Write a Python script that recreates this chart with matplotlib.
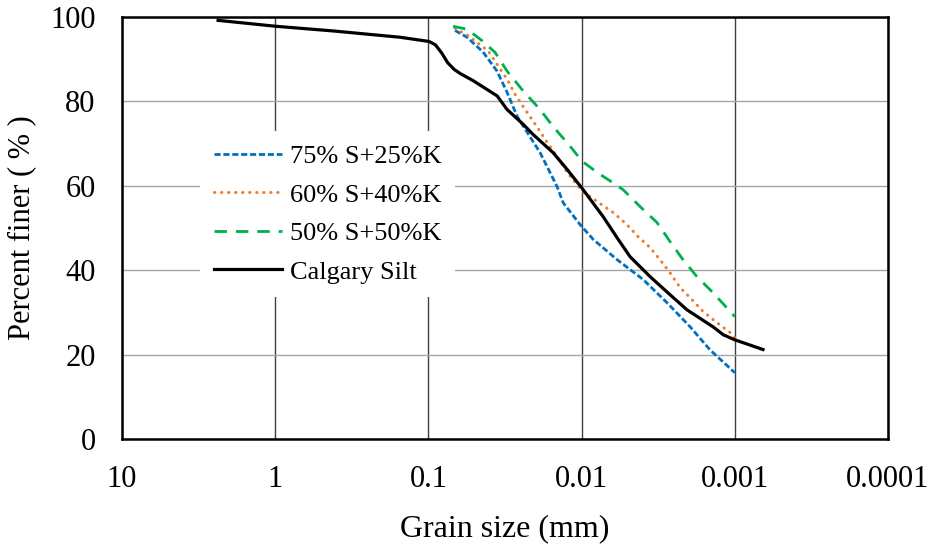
import numpy as np
import matplotlib
matplotlib.use("Agg")
import matplotlib.pyplot as plt

plt.rcParams['font.family'] = ['Liberation Serif', 'DejaVu Serif']

# grain size (mm) and percent finer
d_75 = [0.0670, 0.0560, 0.0440, 0.0357, 0.0307, 0.0264, 0.0227, 0.0187, 0.0145,
        0.0132, 0.01023, 0.0084, 0.00587, 0.00397, 0.00277, 0.00196, 0.00145, 0.0010]
p_75 = [96.8, 95.2, 91.7, 87.2, 82.2, 76.5, 72.7, 67.9, 59.9,
        56.0, 50.8, 47.3, 42.5, 37.8, 32.3, 26.6, 21.1, 15.7]

d_60 = [0.0670, 0.0552, 0.0408, 0.0357, 0.0307, 0.0272, 0.0234, 0.0195, 0.0168,
        0.0145, 0.01245, 0.00993, 0.00759, 0.00624, 0.00506, 0.00429, 0.00358,
        0.00308, 0.00265, 0.00228, 0.00190, 0.00161, 0.00131, 0.00107, 0.0010]
p_60 = [97.3, 95.6, 92.0, 88.8, 85.3, 81.7, 78.1, 73.9, 70.3,
        67.0, 63.2, 58.8, 55.8, 53.7, 50.8, 48.0, 45.4,
        42.5, 39.4, 35.9, 33.0, 30.2, 27.6, 25.2, 24.0]

d_50 = [0.0691, 0.0560, 0.0447, 0.0367, 0.0307, 0.0241, 0.0187, 0.0154, 0.0119,
        0.00993, 0.00759, 0.00673, 0.00537, 0.00416, 0.00322, 0.00265, 0.00218,
        0.00177, 0.00139, 0.0010]
p_50 = [97.8, 97.1, 94.4, 91.6, 87.2, 82.5, 78.1, 74.1, 69.4,
        65.8, 62.7, 61.5, 59.1, 55.1, 51.3, 46.8, 42.5,
        38.5, 34.7, 29.0]

d_cs = [2.36, 0.99, 0.42, 0.153, 0.099, 0.090, 0.082, 0.075, 0.068, 0.062, 0.051,
        0.0356, 0.0307, 0.0241, 0.0208, 0.0154, 0.01245, 0.00993, 0.00724, 0.00587,
        0.00483, 0.00358, 0.00265, 0.00205, 0.00139, 0.00119, 0.0010, 0.000655]
p_cs = [99.2, 97.8, 96.7, 95.2, 94.2, 93.4, 91.5, 89.2, 87.6, 86.6, 84.9,
        81.3, 78.1, 74.6, 72.2, 67.9, 63.9, 59.4, 52.7, 47.7,
        43.2, 38.5, 34.2, 30.6, 26.6, 24.7, 23.5, 21.2]

labels = ['75% S+25%K', '60% S+40%K', '50% S+50%K', 'Calgary Silt']
xticks = [10, 1, 0.1, 0.01, 0.001, 0.0001]
xtick_labels = ['10', '1', '0.1', '0.01', '0.001', '0.0001']
yticks = [0, 20, 40, 60, 80, 100]

fig = plt.figure(figsize=(9.33, 5.52), dpi=100)
ax = fig.add_axes([0.1308, 0.2047, 0.8210, 0.7645])

ax.plot(d_75, p_75, color='#0070C0', lw=2.0, dashes=(2.2, 1.0), label=labels[0])
ax.plot(d_60, p_60, color='#ED7D31', lw=2.2, dashes=(0.1, 2.2),
        dash_capstyle='round', label=labels[1])
ax.plot(d_50, p_50, color='#00B050', lw=2.0, dashes=(4.5, 3.2), label=labels[2])
ax.plot(d_cs, p_cs, color='black', lw=2.3, label=labels[3])

ax.set_xscale('log')
ax.set_xlim(10, 0.0001)
ax.set_ylim(0, 100)
ax.set_xticks(xticks)
ax.set_xticklabels(xtick_labels)
ax.xaxis.set_minor_locator(matplotlib.ticker.NullLocator())
ax.set_yticks(yticks)

ax.grid(True, axis='x', color='#404040', lw=1.0)
ax.grid(True, axis='y', color='#a6a6a6', lw=1.0)
ax.set_axisbelow(True)

for s in ax.spines.values():
    s.set_linewidth(1.8)
    s.set_color('black')

ax.tick_params(axis='both', length=0, labelsize=22)
ax.tick_params(axis='x', pad=19)
ax.tick_params(axis='y', pad=19)

ax.set_xlabel('Grain size (mm)', fontsize=23, labelpad=14)
ax.set_ylabel('Percent finer ( % )', fontsize=22, labelpad=10)

leg = ax.legend(loc='upper left', bbox_to_anchor=(0.085, 0.76), fontsize=19,
                frameon=True, facecolor='white', edgecolor='none', framealpha=1,
                fancybox=False, handlelength=2.6, handletextpad=0.3,
                labelspacing=0.57, borderpad=0.5)

fig.savefig('out.png', dpi=100)
